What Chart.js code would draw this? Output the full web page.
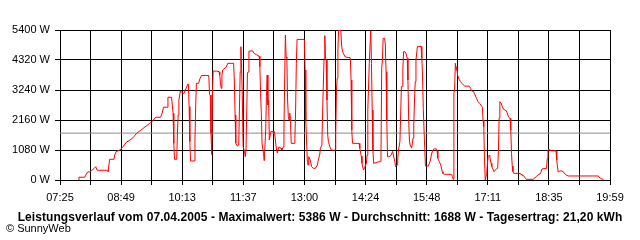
<!DOCTYPE html>
<html>
<head>
<meta charset="utf-8">
<script src="https://cdn.jsdelivr.net/npm/chart.js@4.4.1/dist/chart.umd.min.js"></script>
<style>
  html, body { margin: 0; padding: 0; background: #fff; }
  canvas { display: block; }
</style>
</head>
<body>
<canvas id="powerChart" width="640" height="240"></canvas>
<script>
// --- DATA ---
const times = [
  '07:51','07:51','07:59','08:01','08:03','08:06','08:08','08:12','08:14','08:16','08:30','08:31','08:33','08:39',
  '08:40','08:42','08:47','08:51','08:56','09:01','09:05','09:10','09:14','09:19','09:23','09:28','09:32','09:36',
  '09:43','09:45','09:47','09:52','09:53','09:58','10:00','10:01','10:02','10:05','10:06','10:07','10:08','10:10',
  '10:14','10:15','10:18','10:20','10:21','10:22','10:23','10:24','10:29','10:30','10:31','10:32','10:35','10:37',
  '10:39','10:49','10:50','10:51','10:52','10:53','10:54','10:55','11:00','11:03','11:04','11:05','11:06','11:07',
  '11:08','11:13','11:15','11:23','11:24','11:25','11:26','11:28','11:30','11:32','11:33','11:34','11:35','11:36',
  '11:38','11:39','11:40','11:42','11:43','11:44','11:49','11:51','11:55','11:58','11:59','12:00','12:01','12:02',
  '12:04','12:05','12:06','12:07','12:08','12:09','12:10','12:11','12:12','12:14','12:19','12:21','12:22','12:23',
  '12:25','12:28','12:29','12:31','12:32','12:33','12:34','12:35','12:36','12:37','12:38','12:39','12:40','12:41',
  '12:42','12:46','12:47','12:48','12:49','12:50','13:00','13:01','13:02','13:04','13:05','13:06','13:08','13:10',
  '13:12','13:15','13:18','13:19','13:21','13:22','13:24','13:25','13:26','13:27','13:28','13:29','13:30','13:31',
  '13:32','13:33','13:35','13:37','13:40','13:42','13:43','13:44','13:45','13:46','13:47','13:50','13:51','13:52',
  '13:53','13:56','14:03','14:04','14:05','14:06','14:15','14:16','14:18','14:19','14:21','14:22','14:24','14:25',
  '14:26','14:27','14:29','14:31','14:32','14:33','14:34','14:35','14:41','14:44','14:45','14:46','14:47','14:48',
  '14:50','14:51','14:52','14:53','14:54','14:56','14:59','15:01','15:02','15:04','15:05','15:07','15:08','15:09',
  '15:11','15:12','15:13','15:14','15:15','15:16','15:18','15:20','15:21','15:22','15:23','15:24','15:25','15:27',
  '15:28','15:29','15:30','15:31','15:32','15:33','15:35','15:40','15:41','15:42','15:43','15:45','15:46','15:50',
  '15:51','15:53','15:54','15:56','15:58','16:01','16:02','16:03','16:05','16:07','16:08','16:09','16:10','16:12',
  '16:22','16:23','16:24','16:25','16:26','16:27','16:28','16:29','16:30','16:31','16:32','16:34','16:36','16:38',
  '16:40','16:46','16:48','16:49','16:52','16:54','16:56','16:58','17:01','17:03','17:04','17:05','17:06','17:07',
  '17:08','17:09','17:10','17:11','17:12','17:14','17:15','17:16','17:17','17:19','17:20','17:22','17:24','17:25',
  '17:26','17:27','17:28','17:30','17:31','17:33','17:35','17:37','17:39','17:40','17:42','17:43','17:44','17:45',
  '17:46','17:47','17:54','17:57','17:58','18:01','18:03','18:04','18:14','18:15','18:18','18:20','18:23','18:24',
  '18:26','18:32','18:33','18:34','18:35','18:39','18:45','18:46','18:47','18:48','18:50','18:52','18:55','18:56',
  '18:59','19:02','19:43','19:44','19:47','19:50'
];
const power = [
  0,100,100,210,290,290,335,420,480,350,350,290,745,745,
  900,1020,1080,1180,1360,1440,1520,1680,1760,1860,1940,2040,2120,2260,
  2260,2410,2620,2620,2980,2980,2400,1320,745,745,1690,2340,2880,3200,
  3120,3120,3310,3445,3455,2640,1380,685,685,1380,2675,3480,3480,3660,
  3760,3760,3080,3060,1680,920,3170,3920,3920,3900,3780,3490,3300,3780,
  3960,4070,4200,4200,3600,2340,1330,1220,1260,3890,4800,3960,2880,1200,
  1020,840,1080,3850,3890,4640,4650,4560,4500,4460,4080,3120,2400,1320,
  960,695,695,1800,3000,3780,2700,2880,1440,1740,1740,1260,1080,970,
  1190,1150,1080,1190,1800,3600,5220,4430,4380,2880,2280,2160,2410,2100,
  1320,1320,1500,2520,4200,5060,5060,3960,2160,720,540,840,720,480,
  420,420,540,720,900,1140,1260,2410,3420,4380,5200,4380,4320,2880,
  1620,1380,1190,1080,1070,1080,1620,3240,3660,4680,5386,5380,4860,4680,
  4580,4430,4400,3600,1800,1320,1320,1140,860,600,360,400,540,600,
  900,2520,4200,5380,4200,2520,1080,600,650,660,720,4020,4320,5100,
  5100,4860,3900,2160,840,830,900,1030,900,660,480,540,720,1080,
  1380,2340,3360,3360,3960,4620,4620,4500,4380,3600,2160,1440,1260,1150,
  1300,1510,1980,2880,3540,4320,4810,4810,4380,3780,2580,1140,500,500,
  580,720,900,1080,1120,1120,1040,780,660,540,430,300,235,205,
  205,125,25,3120,3310,4200,3960,4080,3780,3720,3630,3540,3480,3420,
  3380,3380,3300,3210,3180,3060,2940,2820,2740,2660,2620,2160,1920,660,
  0,0,240,600,840,900,720,600,480,360,300,360,420,420,
  1020,2230,2820,2760,2660,2550,2520,2490,2340,2260,2220,1800,960,500,
  300,240,240,215,180,145,60,25,25,60,120,180,215,260,
  400,420,780,1080,1100,1050,1050,720,470,290,320,330,300,250,
  180,145,145,100,50,20
];
const averagePower = 1688;
const xTickLabels = ['07:25', '08:49', '10:13', '11:37', '13:00', '14:24', '15:48', '17:11', '18:35', '19:59'];
const yTickLabels = ['0 W', '1080 W', '2160 W', '3240 W', '4320 W', '5400 W'];
const titleText = 'Leistungsverlauf vom 07.04.2005 - Maximalwert: 5386 W - Durchschnitt: 1688 W - Tagesertrag: 21,20 kWh';
const copyrightText = '\u00A9 SunnyWeb';

const toMin = (s) => {
  const [h, m] = s.split(':').map(Number);
  return h * 60 + m;
};

const xMin = toMin(xTickLabels[0]);
const xMax = toMin(xTickLabels[xTickLabels.length - 1]);
const xSteps = (xTickLabels.length - 1) * 2; // one unlabeled grid line between labels
const yMax = parseInt(yTickLabels[yTickLabels.length - 1], 10);
const yStep = parseInt(yTickLabels[1], 10);

const fontFamily = '"Liberation Sans", Arial, sans-serif';

// --- FOOTER TEXT ---
const footerText = {
  id: 'footerText',
  afterDraw(chart) {
    const c = chart.ctx;
    c.save();
    c.fillStyle = '#000';
    c.textBaseline = 'alphabetic';
    c.font = 'bold 12px ' + fontFamily;
    c.textAlign = 'center';
    if ('letterSpacing' in c) c.letterSpacing = '0.08px';
    c.fillText(titleText, 320, 221);
    if ('letterSpacing' in c) c.letterSpacing = '0px';
    c.font = '11px ' + fontFamily;
    c.textAlign = 'left';
    c.fillText(copyrightText, 6, 232);
    c.restore();
  }
};

// --- CHART ---
new Chart(document.getElementById('powerChart'), {
  type: 'line',
  data: {
    datasets: [
      {
        label: 'Leistung',
        data: times.map((t, i) => ({ x: toMin(t), y: power[i] })),
        borderColor: '#ff0000',
        borderWidth: 1,
        pointRadius: 0,
        tension: 0,
        fill: false,
        order: 1
      },
      {
        label: 'Durchschnitt',
        data: [{ x: xMin, y: averagePower }, { x: xMax, y: averagePower }],
        borderColor: '#8c8c8c',
        borderWidth: 1,
        pointRadius: 0,
        fill: false,
        order: 2
      }
    ]
  },
  options: {
    responsive: false,
    animation: false,
    devicePixelRatio: 1,
    layout: { padding: { top: 30, right: 30, left: 0, bottom: 0 } },
    plugins: {
      legend: { display: false },
      tooltip: { enabled: false }
    },
    scales: {
      x: {
        type: 'linear',
        min: xMin,
        max: xMax,
        afterBuildTicks: (scale) => {
          scale.ticks = [];
          for (let i = 0; i <= xSteps; i++) {
            scale.ticks.push({ value: xMin + i * (xMax - xMin) / xSteps });
          }
        },
        afterFit: (scale) => { scale.height = 60; },
        ticks: {
          autoSkip: false,
          maxRotation: 0,
          padding: 6,
          color: '#000',
          font: { family: fontFamily, size: 11 },
          callback: (value, index) => (index % 2 === 0 ? xTickLabels[index / 2] : '')
        },
        grid: { color: '#000', lineWidth: 1, tickLength: 5 },
        border: { color: '#000' }
      },
      y: {
        min: 0,
        max: yMax,
        ticks: {
          stepSize: yStep,
          padding: 5,
          color: '#000',
          font: { family: fontFamily, size: 11 },
          callback: (value, index) => yTickLabels[index]
        },
        afterFit: (scale) => { scale.width = 60; },
        grid: { color: '#000', lineWidth: 1, tickLength: 5 },
        border: { color: '#000' }
      }
    }
  },
  plugins: [footerText]
});
</script>
</body>
</html>
